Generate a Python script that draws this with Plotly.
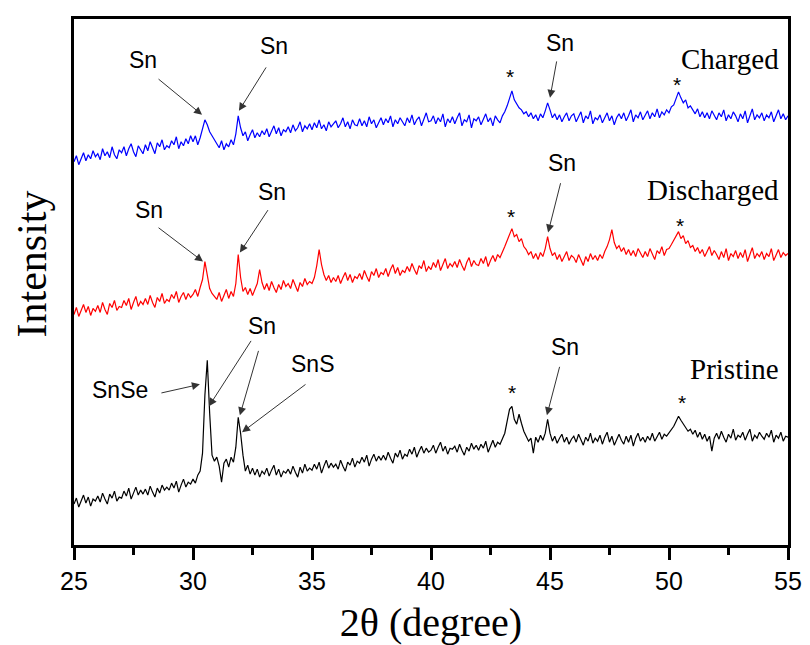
import numpy as np
import plotly.graph_objects as go

# 2-theta grid (degrees), 0.1 deg step
two_theta = np.round(np.linspace(25.0, 55.0, 301), 1)

# Intensity (arbitrary units, already offset per pattern)
charged = [
    384, 390, 381, 388, 393, 385, 391, 387, 395, 389,
    392, 386, 397, 390, 394, 388, 399, 391, 387, 396,
    393, 399, 390, 397, 402, 394, 389, 400, 396, 392,
    401, 395, 404, 397, 392, 403, 399, 406, 396, 400,
    398, 405, 401, 409, 397, 404, 400, 407, 402, 410,
    404, 410, 401, 408, 416, 426, 421, 414, 410, 406,
    403, 398, 405, 396, 402, 399, 406, 401, 412, 430,
    418, 410, 414, 405, 411, 416, 408, 413, 409, 415,
    411, 417, 409, 415, 420, 412, 418, 410, 416, 414,
    419, 413, 421, 415, 418, 424, 414, 420, 417, 422,
    416, 423, 418, 426, 417, 421, 415, 424, 419, 422,
    425, 418, 422, 428, 419, 424, 417, 426, 421, 420,
    427, 420, 425, 419, 429, 422, 426, 418, 424, 428,
    421, 427, 423, 430, 419, 426, 422, 428, 424, 420,
    428, 423, 431, 421, 426, 429, 420, 427, 433, 424,
    425, 430, 422, 428, 424, 432, 419, 427, 423, 429,
    422, 428, 433, 420, 426, 424, 431, 418, 427, 425,
    429, 421, 427, 432, 424, 428, 420, 430, 426, 423,
    430, 434, 440, 448, 455, 446, 442, 438, 436, 432,
    434, 429, 433, 427, 431, 425, 432, 428, 435, 443,
    436, 428, 432, 426, 431, 424, 429, 433, 425, 430,
    432, 424, 429, 434, 423, 430, 427, 435, 422, 428,
    426, 431, 423, 429, 433, 425, 430, 421, 428, 432,
    427, 433, 425, 430, 436, 424, 431, 428, 434, 426,
    430, 435, 427, 433, 429, 437, 428, 434, 431, 436,
    433, 439, 441, 447, 454, 448, 443, 446, 438, 440,
    436, 432, 437, 429, 434, 428, 433, 427, 435, 430,
    426, 433, 429, 436, 425, 431, 427, 434, 430, 424,
    432, 427, 435, 423, 430, 437, 426, 431, 428, 433,
    425, 431, 428, 434, 424, 430, 436, 427, 432, 426,
    430,
]

discharged = [
    231, 238, 229, 236, 241, 233, 239, 230, 237, 234,
    240, 233, 243, 236, 231, 242, 238, 245, 235, 239,
    238, 245, 240, 247, 236, 243, 249, 239, 244, 241,
    247, 241, 250, 243, 238, 248, 244, 252, 242, 246,
    244, 251, 247, 254, 243, 249, 253, 246, 252, 248,
    251, 256, 249, 258, 266, 284, 270, 257, 252, 249,
    246, 253, 244, 250, 256, 247, 254, 249, 262, 291,
    268, 254, 258, 251, 257, 250, 256, 262, 276, 263,
    256, 262, 255, 264, 258, 253, 261, 256, 265, 259,
    262, 257, 266, 260, 254, 263, 259, 267, 261, 264,
    262, 268, 280, 296, 281, 271, 265, 270, 263, 268,
    264, 270, 262, 268, 273, 265, 271, 263, 269, 267,
    272, 266, 275, 269, 264, 274, 270, 277, 268, 273,
    271, 277, 269, 276, 281, 272, 278, 270, 275, 273,
    279, 274, 282, 276, 271, 280, 277, 285, 274, 279,
    276, 283, 278, 286, 275, 281, 287, 277, 282, 279,
    284, 278, 286, 280, 275, 283, 288, 279, 285, 281,
    280, 287, 282, 289, 279, 285, 290, 284, 291, 288,
    293, 299, 305, 312, 317, 309, 311, 304, 307, 299,
    296, 291, 294, 287, 292, 286, 293, 289, 297, 309,
    297, 290, 293, 286, 291, 284, 289, 294, 285, 290,
    288, 283, 291, 285, 280, 289, 284, 292, 286, 290,
    285, 291, 287, 294, 299, 306, 316, 303, 297, 300,
    294, 298, 291, 296, 290, 295, 289, 297, 292, 288,
    294, 289, 297, 291, 286, 295, 292, 299, 290, 296,
    297, 301, 305, 309, 314, 307, 310, 302, 305, 298,
    300, 294, 298, 292, 296, 289, 294, 299, 290, 295,
    291, 286, 294, 288, 297, 285, 292, 289, 295, 287,
    293, 288, 296, 284, 291, 298, 287, 292, 289, 294,
    286, 292, 289, 297, 285, 291, 296, 288, 293, 290,
    292,
]

pristine = [
    41, 47, 38, 45, 50, 42, 48, 39, 46, 44,
    49, 43, 52, 46, 41, 51, 47, 54, 44, 48,
    47, 54, 49, 57, 46, 52, 58, 50, 55, 51,
    56, 50, 59, 53, 48, 57, 52, 60, 55, 58,
    55, 62, 57, 64, 53, 60, 66, 58, 63, 61,
    66, 62, 70, 74, 92, 150, 185, 132, 90, 84,
    88, 79, 63, 82, 86, 78, 88, 83, 98, 128,
    112, 90, 74, 80, 71, 77, 70, 76, 68, 74,
    71, 77, 69, 75, 80, 70, 76, 68, 74, 72,
    76, 71, 79, 73, 68, 78, 72, 81, 74, 77,
    75, 81, 76, 83, 72, 79, 85, 77, 82, 78,
    81, 76, 85, 79, 74, 83, 80, 87, 78, 84,
    82, 88, 83, 90, 79, 86, 91, 84, 89, 85,
    90, 85, 93, 87, 82, 92, 88, 95, 86, 91,
    89, 96, 91, 98, 88, 94, 99, 92, 97, 93,
    95, 100, 92, 98, 103, 94, 99, 91, 97, 96,
    99, 93, 101, 95, 90, 98, 94, 102, 96, 100,
    95, 101, 97, 104, 93, 99, 105, 98, 103, 101,
    106, 112, 124, 136, 139, 126, 121, 131, 122, 114,
    109, 104, 107, 92, 108, 103, 110, 105, 112, 126,
    112, 104, 109, 102, 107, 111, 103, 108, 101, 106,
    109, 103, 111, 105, 100, 108, 104, 112, 102, 107,
    104, 110, 101, 108, 113, 103, 109, 100, 106, 111,
    105, 101, 109, 103, 110, 99, 107, 112, 104, 108,
    103, 109, 105, 112, 104, 108, 113, 106, 111, 109,
    112, 116, 119, 124, 129, 125, 121, 118, 114, 116,
    111, 115, 108, 113, 106, 111, 104, 109, 94, 107,
    112, 106, 114, 108, 103, 111, 107, 116, 105, 110,
    108, 113, 105, 111, 116, 104, 110, 107, 113, 109,
    106, 112, 108, 115, 103, 110, 107, 113, 104, 109,
    108,
]

series_names = ["Charged", "Discharged", "Pristine"]
series_colors = ["#0000ff", "#ff0000", "#000000"]

# Peak labels: (text, x, y)
peak_labels = [
    ("Sn", 27.90, 486), ("Sn", 33.40, 500), ("Sn", 45.42, 503),
    ("Sn", 28.15, 336), ("Sn", 33.32, 354), ("Sn", 45.50, 383),
    ("SnSe", 26.93, 155), ("Sn", 32.90, 219), ("SnS", 35.04, 181), ("Sn", 45.63, 198),
]
star_labels = [
    (43.32, 469), (50.34, 461),
    (43.36, 329), (50.46, 320),
    (43.40, 153), (50.55, 143),
]
# Arrows: (tail x, tail y, head x, head y)
arrows = [
    (28.49, 468, 30.38, 431), (33.11, 480, 31.93, 435), (45.29, 486, 45.00, 448),
    (28.49, 319, 30.42, 284), (33.19, 337, 31.97, 293), (45.46, 364, 44.92, 313),
    (28.61, 152, 30.29, 161), (32.48, 206, 30.67, 139), (32.77, 196, 31.97, 130),
    (34.79, 162, 32.06, 113), (45.42, 180, 44.87, 130),
]
pattern_labels = [("Charged", 487), ("Discharged", 356), ("Pristine", 176)]

fig = go.Figure()
for name, color, vals in zip(series_names, series_colors, [charged, discharged, pristine]):
    fig.add_trace(go.Scatter(x=two_theta, y=vals, mode="lines", name=name,
                             line=dict(color=color, width=1.2)))

ann = []
for t, x, y in peak_labels:
    ann.append(dict(x=x, y=y, text=t, showarrow=False, xref="x", yref="y",
                    font=dict(family="Liberation Sans, Arial", size=23, color="black")))
for x, y in star_labels:
    ann.append(dict(x=x, y=y, text="*", showarrow=False, xref="x", yref="y",
                    font=dict(family="Liberation Sans, Arial", size=21, color="black")))
for tx, ty, hx, hy in arrows:
    ann.append(dict(x=hx, y=hy, ax=tx, ay=ty, axref="x", ayref="y", xref="x", yref="y",
                    text="", showarrow=True, arrowhead=2, arrowsize=1.6, arrowwidth=1,
                    arrowcolor="#333333", standoff=0, startstandoff=0))
for t, y in pattern_labels:
    ann.append(dict(x=54.72, y=y, text=t, showarrow=False, xref="x", yref="y",
                    xanchor="right",
                    font=dict(family="Liberation Serif, Times New Roman", size=29, color="black")))
ann.append(dict(x=-0.059, y=0.535, xref="paper", yref="paper", text="Intensity",
                textangle=-90, showarrow=False, xanchor="center", yanchor="middle",
                font=dict(family="Liberation Serif, Times New Roman", size=42, color="black")))

# page body has an 8 px default margin; figure sized/offset to compensate
fig.update_layout(
    width=802, height=637,
    margin=dict(l=66, r=14, t=8, b=94),
    paper_bgcolor="white", plot_bgcolor="white",
    showlegend=False,
    annotations=ann,
    xaxis=dict(range=[25, 55], tickmode="array", tickvals=[25, 30, 35, 40, 45, 50, 55],
               ticks="outside", ticklen=12, tickwidth=3, tickcolor="black",
               minor=dict(tickvals=[27.5, 32.5, 37.5, 42.5, 47.5, 52.5], ticks="outside",
                          ticklen=7, tickwidth=3, tickcolor="black", showgrid=False),
               showline=True, linewidth=3, linecolor="black", mirror=True,
               showgrid=False, zeroline=False,
               tickfont=dict(family="Liberation Sans, Arial", size=25, color="black"),
               title=dict(text="2θ (degree)", standoff=14,
                          font=dict(family="Liberation Serif, Times New Roman", size=40, color="black"))),
    yaxis=dict(range=[0, 527], showticklabels=False, ticks="",
               showline=True, linewidth=3, linecolor="black", mirror=True,
               showgrid=False, zeroline=False),
)

fig.write_html("out.html")
